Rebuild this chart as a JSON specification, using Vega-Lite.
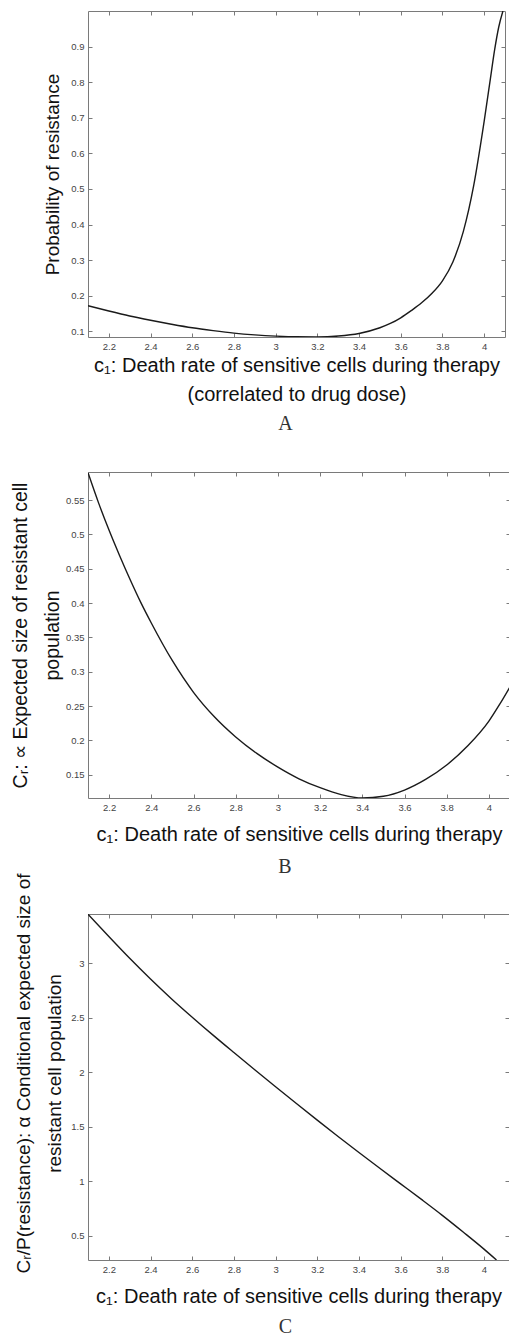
{
  "$schema": "https://vega.github.io/schema/vega-lite/v6.json",
  "padding": {"left": 10, "top": 10, "right": 0, "bottom": 0},
  "background": "white",
  "config": {
    "font": "Liberation Sans",
    "view": {"stroke": null},
    "axis": {
      "grid": false,
      "domainColor": "#7a7a7a",
      "tickColor": "#7a7a7a",
      "labelFont": "Liberation Sans",
      "labelFontSize": 9.5,
      "labelColor": "#444444",
      "titleFont": "Liberation Sans",
      "titleFontSize": 20,
      "titleFontWeight": "normal",
      "titleColor": "#111111",
      "tickSize": -4,
      "labelPadding": 8
    },
    "title": {"font": "Liberation Serif", "fontSize": 20, "fontWeight": "normal", "color": "#333333", "orient": "bottom", "frame": "group"}
  },
  "datasets": {
    "a": [
      {"x": 2.1, "y": 0.172}, {"x": 2.2, "y": 0.157}, {"x": 2.3, "y": 0.143}, {"x": 2.4, "y": 0.131},
      {"x": 2.5, "y": 0.12}, {"x": 2.6, "y": 0.11}, {"x": 2.7, "y": 0.102}, {"x": 2.8, "y": 0.095},
      {"x": 2.9, "y": 0.09}, {"x": 3.0, "y": 0.0865}, {"x": 3.1, "y": 0.0845}, {"x": 3.2, "y": 0.0843},
      {"x": 3.3, "y": 0.0868}, {"x": 3.4, "y": 0.094}, {"x": 3.5, "y": 0.11}, {"x": 3.55, "y": 0.122},
      {"x": 3.6, "y": 0.138}, {"x": 3.65, "y": 0.158}, {"x": 3.7, "y": 0.18}, {"x": 3.75, "y": 0.207},
      {"x": 3.8, "y": 0.242}, {"x": 3.85, "y": 0.295}, {"x": 3.9, "y": 0.38}, {"x": 3.95, "y": 0.51},
      {"x": 4.0, "y": 0.69}, {"x": 4.03, "y": 0.81}, {"x": 4.05, "y": 0.89}, {"x": 4.07, "y": 0.955},
      {"x": 4.09, "y": 1.0}
    ],
    "b": [
      {"x": 2.1, "y": 0.59}, {"x": 2.15, "y": 0.546}, {"x": 2.2, "y": 0.506}, {"x": 2.25, "y": 0.469},
      {"x": 2.3, "y": 0.434}, {"x": 2.35, "y": 0.401}, {"x": 2.4, "y": 0.371}, {"x": 2.5, "y": 0.316},
      {"x": 2.6, "y": 0.27}, {"x": 2.7, "y": 0.234}, {"x": 2.8, "y": 0.205}, {"x": 2.9, "y": 0.181},
      {"x": 3.0, "y": 0.161}, {"x": 3.1, "y": 0.144}, {"x": 3.2, "y": 0.131}, {"x": 3.3, "y": 0.121},
      {"x": 3.4, "y": 0.116}, {"x": 3.5, "y": 0.1185}, {"x": 3.6, "y": 0.1275}, {"x": 3.7, "y": 0.143},
      {"x": 3.8, "y": 0.164}, {"x": 3.9, "y": 0.192}, {"x": 4.0, "y": 0.228}, {"x": 4.05, "y": 0.252},
      {"x": 4.1, "y": 0.278}
    ],
    "c": [
      {"x": 2.1, "y": 3.45}, {"x": 2.2, "y": 3.245}, {"x": 2.3, "y": 3.045}, {"x": 2.4, "y": 2.855},
      {"x": 2.5, "y": 2.675}, {"x": 2.6, "y": 2.505}, {"x": 2.7, "y": 2.34}, {"x": 2.8, "y": 2.18},
      {"x": 2.9, "y": 2.022}, {"x": 3.0, "y": 1.866}, {"x": 3.1, "y": 1.712}, {"x": 3.2, "y": 1.56},
      {"x": 3.3, "y": 1.41}, {"x": 3.4, "y": 1.263}, {"x": 3.5, "y": 1.118}, {"x": 3.6, "y": 0.975},
      {"x": 3.7, "y": 0.832}, {"x": 3.8, "y": 0.686}, {"x": 3.9, "y": 0.533}, {"x": 4.0, "y": 0.376},
      {"x": 4.06, "y": 0.276}
    ]
  },
  "spacing": -4,
  "vconcat": [
    {
      "width": 417,
      "height": 326,
      "title": {"text": ["A", " ", " "], "dx": -11, "offset": 9, "lineHeight": 19},
      "data": {"name": "a"},
      "layer": [
        {
          "mark": {"type": "line", "color": "#1a1a1a", "strokeWidth": 1.4, "clip": true, "interpolate": "monotone"},
          "encoding": {
            "x": {"field": "x", "type": "quantitative", "scale": {"domain": [2.1, 4.1], "nice": false, "zero": false},
              "axis": {"orient": "bottom", "values": [2.2, 2.4, 2.6, 2.8, 3, 3.2, 3.4, 3.6, 3.8, 4], "format": "~g",
                "title": ["c₁: Death rate of sensitive cells during therapy", "(correlated to drug dose)"], "titleLineHeight": 29, "titlePadding": 5}},
            "y": {"field": "y", "type": "quantitative", "scale": {"domain": [0.084, 1.0], "nice": false, "zero": false},
              "axis": {"orient": "left", "values": [0.1, 0.2, 0.3, 0.4, 0.5, 0.6, 0.7, 0.8, 0.9], "format": "~g",
                "title": "Probability of resistance", "titleFontSize": 19, "titlePadding": 8}}
          }
        },
        {
          "mark": {"type": "line", "opacity": 0},
          "encoding": {
            "x": {"field": "x", "type": "quantitative", "scale": {"domain": [2.1, 4.1], "nice": false, "zero": false},
              "axis": {"orient": "top", "values": [2.2, 2.4, 2.6, 2.8, 3, 3.2, 3.4, 3.6, 3.8, 4], "labels": false, "title": null}},
            "y": {"field": "y", "type": "quantitative", "scale": {"domain": [0.084, 1.0], "nice": false, "zero": false},
              "axis": {"orient": "right", "values": [0.1, 0.2, 0.3, 0.4, 0.5, 0.6, 0.7, 0.8, 0.9], "labels": false, "title": null}}
          }
        }
      ],
      "resolve": {"axis": {"x": "independent", "y": "independent"}}
    },
    {
      "width": 422,
      "height": 326,
      "title": {"text": "B", "dx": -14, "offset": 12},
      "data": {"name": "b"},
      "layer": [
        {
          "mark": {"type": "line", "color": "#1a1a1a", "strokeWidth": 1.4, "clip": true, "interpolate": "monotone"},
          "encoding": {
            "x": {"field": "x", "type": "quantitative", "scale": {"domain": [2.1, 4.1], "nice": false, "zero": false},
              "axis": {"orient": "bottom", "values": [2.2, 2.4, 2.6, 2.8, 3, 3.2, 3.4, 3.6, 3.8, 4], "format": "~g",
                "title": "c₁: Death rate of sensitive cells during therapy", "titlePadding": 13}},
            "y": {"field": "y", "type": "quantitative", "scale": {"domain": [0.116, 0.591], "nice": false, "zero": false},
              "axis": {"orient": "left", "values": [0.15, 0.2, 0.25, 0.3, 0.35, 0.4, 0.45, 0.5, 0.55], "format": "~g",
                "title": ["Cᵣ: ∝  Expected size of resistant cell", "population"], "titleFontSize": 19.5, "titleLineHeight": 32, "titlePadding": 3}}
          }
        },
        {
          "mark": {"type": "line", "opacity": 0},
          "encoding": {
            "x": {"field": "x", "type": "quantitative", "scale": {"domain": [2.1, 4.1], "nice": false, "zero": false},
              "axis": {"orient": "top", "values": [2.2, 2.4, 2.6, 2.8, 3, 3.2, 3.4, 3.6, 3.8, 4], "labels": false, "title": null}},
            "y": {"field": "y", "type": "quantitative", "scale": {"domain": [0.116, 0.591], "nice": false, "zero": false},
              "axis": {"orient": "right", "values": [0.15, 0.2, 0.25, 0.3, 0.35, 0.4, 0.45, 0.5, 0.55], "labels": false, "title": null}}
          }
        }
      ],
      "resolve": {"axis": {"x": "independent", "y": "independent"}}
    },
    {
      "width": 421,
      "height": 346,
      "title": {"text": "C", "dx": -13, "offset": 10},
      "data": {"name": "c"},
      "layer": [
        {
          "mark": {"type": "line", "color": "#1a1a1a", "strokeWidth": 1.4, "clip": true, "interpolate": "monotone"},
          "encoding": {
            "x": {"field": "x", "type": "quantitative", "scale": {"domain": [2.1, 4.12], "nice": false, "zero": false},
              "axis": {"orient": "bottom", "values": [2.2, 2.4, 2.6, 2.8, 3, 3.2, 3.4, 3.6, 3.8, 4], "format": "~g",
                "title": "c₁: Death rate of sensitive cells during therapy", "titlePadding": 13}},
            "y": {"field": "y", "type": "quantitative", "scale": {"domain": [0.276, 3.452], "nice": false, "zero": false},
              "axis": {"orient": "left", "values": [0.5, 1, 1.5, 2, 2.5, 3], "format": "~g",
                "title": ["Cᵣ/P(resistance): α Conditional expected size of", "resistant cell population"], "titleFontSize": 19, "titleLineHeight": 31, "titlePadding": 6, "titleY": 159}}
          }
        },
        {
          "mark": {"type": "line", "opacity": 0},
          "encoding": {
            "x": {"field": "x", "type": "quantitative", "scale": {"domain": [2.1, 4.12], "nice": false, "zero": false},
              "axis": {"orient": "top", "values": [2.2, 2.4, 2.6, 2.8, 3, 3.2, 3.4, 3.6, 3.8, 4], "labels": false, "title": null}},
            "y": {"field": "y", "type": "quantitative", "scale": {"domain": [0.276, 3.452], "nice": false, "zero": false},
              "axis": {"orient": "right", "values": [0.5, 1, 1.5, 2, 2.5, 3], "labels": false, "title": null}}
          }
        }
      ],
      "resolve": {"axis": {"x": "independent", "y": "independent"}}
    }
  ]
}
